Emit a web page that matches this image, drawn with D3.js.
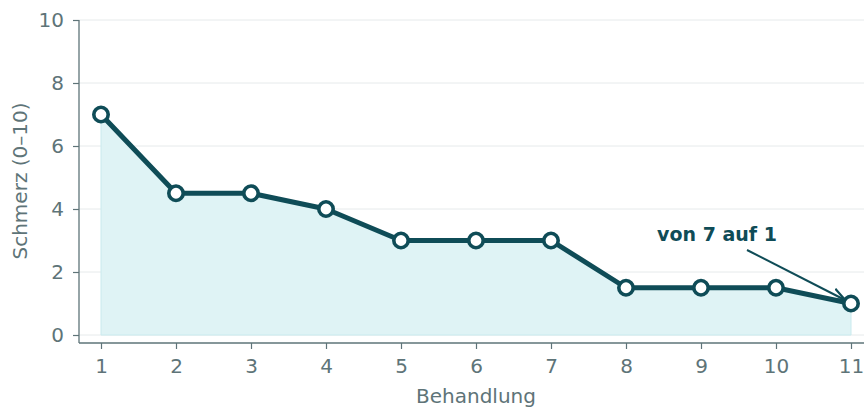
<!DOCTYPE html>
<html><head><meta charset="utf-8">
<script src="https://cdn.jsdelivr.net/npm/d3@7"></script>
<style>body{margin:0;background:#fff}svg{display:block;font-family:"DejaVu Sans",sans-serif}</style>
</head><body><svg id="c" width="864" height="407"></svg>
<script>
const sessions = [1,2,3,4,5,6,7,8,9,10,11];
const pain = [7,4.5,4.5,4,3,3,3,1.5,1.5,1.5,1];
const yTicks = [0,2,4,6,8,10];
const xLabel = "Behandlung";
const yLabel = "Schmerz (0–10)";
const annText = "von 7 auf 1";

const svg = d3.select("#c");
const L = 79, R = 864, T = 20, B = 343;
const x = d3.scaleLinear().domain([1,11]).range([101,851]);
const y = d3.scaleLinear().domain([0,10]).range([335,20]);
const dark = "#0f4c57", grey = "#5e7478";

// grid
svg.append("g").selectAll("line").data(yTicks).join("line")
  .attr("x1",L).attr("x2",R).attr("y1",d=>y(d)).attr("y2",d=>y(d))
  .attr("stroke","#e6eaeb").attr("stroke-width",1);

// area
const area = d3.area().x((d,i)=>x(sessions[i])).y0(y(0)).y1(d=>y(d));
svg.append("path").datum(pain).attr("d",area)
  .attr("fill","#dff3f5").attr("stroke","#c9eaee").attr("stroke-width",1);

// axes
const yAxis = d3.axisLeft(y).tickValues(yTicks).tickSize(6).tickPadding(9);
const gy = svg.append("g").attr("transform",`translate(${L},0)`).call(yAxis);
gy.select(".domain").attr("d",`M0,${T}V${B}`);
const xAxis = d3.axisBottom(x).tickValues(sessions).tickSize(6).tickPadding(10);
const gx = svg.append("g").attr("transform",`translate(0,${B})`).call(xAxis);
gx.select(".domain").attr("d",`M${L},0H${R}`);
[gx,gy].forEach(g=>{
  g.attr("font-size",null).attr("font-family",null);
  g.selectAll(".domain").attr("stroke",grey).attr("stroke-width",1.3);
  g.selectAll(".tick line").attr("stroke",grey).attr("stroke-width",1.2);
  g.selectAll("text").attr("fill",grey).style("font-size","20px").style("font-family","DejaVu Sans");
});

// line
const line = d3.line().x((d,i)=>x(sessions[i])).y(d=>y(d));
svg.append("path").datum(pain).attr("d",line).attr("fill","none")
  .attr("stroke",dark).attr("stroke-width",5).attr("stroke-linejoin","round");

// annotation arrow
const ax0 = 747, ay0 = 250;
const tx = x(11)-7, ty = y(pain[10])-4;
svg.append("defs").append("marker").attr("id","ah").attr("viewBox","0 0 10 10")
  .attr("refX",9).attr("refY",5).attr("markerWidth",7).attr("markerHeight",7)
  .attr("orient","auto").append("path").attr("d","M0,1L10,5L0,9").attr("fill","none")
  .attr("stroke",dark).attr("stroke-width",1.6);
svg.append("line").attr("x1",ax0).attr("y1",ay0).attr("x2",tx).attr("y2",ty)
  .attr("stroke",dark).attr("stroke-width",2).attr("marker-end","url(#ah)");

// markers
svg.append("g").selectAll("circle").data(pain).join("circle")
  .attr("cx",(d,i)=>x(sessions[i])).attr("cy",d=>y(d)).attr("r",7.2)
  .attr("fill","#fff").attr("stroke",dark).attr("stroke-width",3.6);

svg.append("text").attr("x",717).attr("y",241).attr("text-anchor","middle")
  .style("font-size","19px").attr("font-weight","bold").attr("fill",dark).text(annText);

// labels
svg.append("text").attr("x",476).attr("y",403).attr("text-anchor","middle")
  .style("font-size","20px").attr("fill",grey).text(xLabel);
svg.append("text").attr("transform","translate(27,181) rotate(-90)").attr("text-anchor","middle")
  .style("font-size","20px").attr("fill",grey).text(yLabel);
</script></body></html>
